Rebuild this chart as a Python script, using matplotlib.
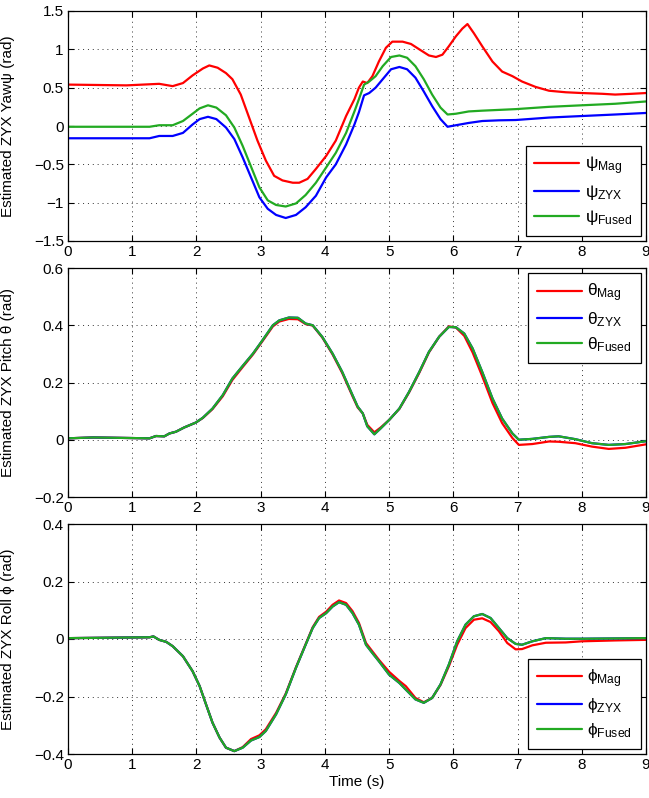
import matplotlib
matplotlib.use("Agg")
import matplotlib.pyplot as plt
from matplotlib.ticker import FuncFormatter

# ---------------- data ----------------
# Yaw
t_yaw_mag = [0, 0.91, 1.42, 1.63, 1.79, 1.94, 2.10, 2.20, 2.33, 2.46, 2.56, 2.69, 2.82, 2.95, 3.08,
             3.21, 3.34, 3.50, 3.60, 3.73, 3.86, 4.02, 4.17, 4.33, 4.46, 4.53, 4.59, 4.66, 4.74,
             4.84, 4.95, 5.05, 5.21, 5.34, 5.47, 5.62, 5.73, 5.83, 5.93, 6.04, 6.14, 6.22, 6.32,
             6.45, 6.61, 6.76, 6.92, 7.07, 7.28, 7.49, 7.75, 8.0, 8.32, 8.52, 8.78, 9.0]
yaw_mag = [0.54, 0.53, 0.55, 0.52, 0.56, 0.66, 0.75, 0.79, 0.76, 0.69, 0.61, 0.41, 0.11, -0.19,
           -0.45, -0.65, -0.71, -0.74, -0.74, -0.69, -0.56, -0.39, -0.19, 0.13, 0.35, 0.50, 0.58,
           0.56, 0.65, 0.84, 1.02, 1.10, 1.10, 1.07, 1.00, 0.92, 0.90, 0.93, 1.04, 1.17, 1.27,
           1.33, 1.21, 1.04, 0.84, 0.71, 0.65, 0.58, 0.51, 0.46, 0.44, 0.43, 0.42, 0.41, 0.42, 0.43]

t_yaw = [0, 1.27, 1.42, 1.63, 1.79, 1.94, 2.05, 2.18, 2.31, 2.46, 2.59, 2.72, 2.85, 2.98, 3.11,
         3.24, 3.39, 3.55, 3.70, 3.86, 4.02, 4.17, 4.33, 4.46, 4.53, 4.61, 4.69, 4.79, 4.90, 5.03,
         5.16, 5.28, 5.41, 5.54, 5.67, 5.80, 5.91, 6.04, 6.24, 6.45, 6.71, 6.97, 7.49, 8.0, 8.52,
         9.0]
yaw_zyx = [-0.16, -0.16, -0.13, -0.13, -0.09, 0.02, 0.09, 0.12, 0.09, -0.02, -0.17, -0.41, -0.67,
           -0.93, -1.08, -1.16, -1.20, -1.16, -1.06, -0.91, -0.67, -0.50, -0.24, 0.02, 0.18, 0.40,
           0.43, 0.50, 0.61, 0.74, 0.77, 0.74, 0.63, 0.45, 0.26, 0.09, -0.01, 0.01, 0.04, 0.065,
           0.074, 0.078, 0.11, 0.13, 0.15, 0.17]
yaw_fused = [-0.01, -0.01, 0.01, 0.01, 0.065, 0.16, 0.23, 0.27, 0.24, 0.14, -0.02, -0.26, -0.53,
             -0.80, -0.97, -1.03, -1.05, -1.01, -0.90, -0.74, -0.54, -0.35, -0.09, 0.19, 0.35,
             0.54, 0.58, 0.65, 0.78, 0.90, 0.92, 0.89, 0.78, 0.61, 0.41, 0.24, 0.15, 0.16, 0.19,
             0.20, 0.21, 0.22, 0.25, 0.27, 0.29, 0.32]

# Pitch
t_pitch = [0, 0.39, 1.27, 1.37, 1.50, 1.58, 1.68, 1.81, 1.99, 2.10, 2.25, 2.41, 2.56, 2.72, 2.88,
           3.03, 3.19, 3.29, 3.44, 3.58, 3.70, 3.81, 3.96, 4.12, 4.27, 4.43, 4.51, 4.59, 4.66,
           4.77, 4.87, 5.0, 5.16, 5.31, 5.47, 5.62, 5.78, 5.93, 6.04, 6.17, 6.30, 6.45, 6.61,
           6.76, 6.92, 7.02, 7.23, 7.49, 7.64, 7.90, 8.16, 8.42, 8.68, 9.0]
pitch_zyx = [0.005, 0.008, 0.005, 0.013, 0.012, 0.022, 0.028, 0.043, 0.06, 0.077, 0.109, 0.156,
             0.214, 0.258, 0.301, 0.348, 0.40, 0.417, 0.427, 0.426, 0.406, 0.40, 0.359, 0.301,
             0.237, 0.156, 0.116, 0.092, 0.047, 0.019, 0.04, 0.069, 0.109, 0.167, 0.237, 0.307,
             0.36, 0.394, 0.393, 0.371, 0.319, 0.237, 0.144, 0.074, 0.022, 0.0, 0.003, 0.01, 0.012,
             0.002, -0.012, -0.018, -0.015, -0.005]
pitch_fused = pitch_zyx
pitch_mag = [0.005, 0.008, 0.005, 0.013, 0.012, 0.022, 0.028, 0.043, 0.06, 0.076, 0.107, 0.152,
             0.209, 0.254, 0.298, 0.345, 0.396, 0.413, 0.422, 0.421, 0.404, 0.399, 0.357, 0.298,
             0.233, 0.152, 0.113, 0.092, 0.052, 0.026, 0.043, 0.069, 0.108, 0.165, 0.234, 0.305,
             0.36, 0.396, 0.392, 0.363, 0.305, 0.222, 0.128, 0.058, 0.006, -0.018, -0.015, -0.006,
             -0.007, -0.012, -0.024, -0.032, -0.028, -0.016]

# Roll
t_roll = [0, 1.27, 1.33, 1.42, 1.53, 1.63, 1.79, 1.94, 2.05, 2.15, 2.25, 2.36, 2.46, 2.59, 2.72,
          2.85, 2.98, 3.08, 3.24, 3.39, 3.55, 3.70, 3.81, 3.91, 4.02, 4.12, 4.22, 4.33, 4.43,
          4.53, 4.64, 4.74, 4.84, 5.0, 5.16, 5.26, 5.41, 5.54, 5.67, 5.80, 5.93, 6.06, 6.19,
          6.32, 6.45, 6.58, 6.71, 6.84, 6.97, 7.07, 7.23, 7.44, 7.75, 8.0, 8.52, 9.0]
roll_zyx = [0.003, 0.006, 0.009, -0.003, -0.01, -0.025, -0.06, -0.112, -0.164, -0.228, -0.291,
            -0.343, -0.378, -0.39, -0.378, -0.353, -0.341, -0.32, -0.262, -0.193, -0.10, -0.02,
            0.038, 0.073, 0.09, 0.113, 0.128, 0.119, 0.09, 0.05, -0.02, -0.049, -0.077, -0.124,
            -0.153, -0.176, -0.21, -0.222, -0.205, -0.158, -0.089, -0.008, 0.05, 0.079, 0.087,
            0.073, 0.038, 0.003, -0.017, -0.02, -0.008, 0.003, 0.001, 0.001, 0.002, 0.003]
roll_fused = roll_zyx
roll_mag = [0.003, 0.006, 0.009, -0.003, -0.01, -0.025, -0.06, -0.112, -0.164, -0.228, -0.291,
            -0.343, -0.378, -0.39, -0.376, -0.348, -0.335, -0.314, -0.257, -0.19, -0.098, -0.018,
            0.041, 0.077, 0.095, 0.119, 0.134, 0.125, 0.097, 0.056, -0.014, -0.043, -0.072,
            -0.114, -0.146, -0.164, -0.205, -0.22, -0.205, -0.16, -0.095, -0.02, 0.038, 0.067,
            0.072, 0.059, 0.027, -0.014, -0.036, -0.035, -0.022, -0.013, -0.012, -0.008, -0.005,
            -0.003]

x_ticks = list(range(0, 10))
yaw_ticks = [-1.5, -1, -0.5, 0, 0.5, 1, 1.5]
pitch_ticks = [-0.2, 0, 0.2, 0.4, 0.6]
roll_ticks = [-0.4, -0.2, 0, 0.2, 0.4]

# ---------------- styling ----------------
plt.rcParams['font.family'] = ['Liberation Sans', 'DejaVu Sans']
plt.rcParams['mathtext.fontset'] = 'custom'
plt.rcParams['mathtext.rm'] = 'Liberation Sans'
plt.rcParams['mathtext.it'] = 'Liberation Sans'

RED = '#ff0000'
BLUE = '#0000ff'
GREEN = '#22aa22'
LW = 1.6

fig = plt.figure(figsize=(6.49, 7.98), dpi=100)
W, H = 649, 798
left, right = 68, 646

def add_axes(top, bottom):
    return fig.add_axes([left / W, 1 - bottom / H, (right - left) / W, (bottom - top) / H])

ax1 = add_axes(11, 241)
ax2 = add_axes(268, 497)
ax3 = add_axes(524, 754)

fmt = FuncFormatter(lambda v, p: f'{v:g}'.replace('-', '\u2212'))

def style(ax, yticks, ylabel):
    ax.set_xlim(0, 9)
    ax.set_ylim(yticks[0], yticks[-1])
    ax.set_xticks(x_ticks)
    ax.set_yticks(yticks)
    ax.yaxis.set_major_formatter(fmt)
    ax.xaxis.set_major_formatter(fmt)
    ax.tick_params(direction='in', length=4, width=0.8, labelsize=11, top=True, right=True,
                   pad=3)
    ax.grid(True, color='#333333', linestyle=(0, (1, 4)), linewidth=0.7)
    for s in ax.spines.values():
        s.set_linewidth(0.9)
    ax.set_ylabel(ylabel, fontsize=11)
    ax.yaxis.set_label_coords((15 - left) / (right - left), 0.5)

kw = dict(lw=LW, solid_joinstyle='round', solid_capstyle='round')

# Yaw
ax1.plot(t_yaw_mag, yaw_mag, color=RED, label=r'$\psi_{\mathrm{Mag}}$', **kw)
ax1.plot(t_yaw, yaw_zyx, color=BLUE, label=r'$\psi_{\mathrm{ZYX}}$', **kw)
ax1.plot(t_yaw, yaw_fused, color=GREEN, label=r'$\psi_{\mathrm{Fused}}$', **kw)
style(ax1, yaw_ticks, 'Estimated ZYX Yaw\u03c8 (rad)')

# Pitch
ax2.plot(t_pitch, pitch_mag, color=RED, label=r'$\theta_{\mathrm{Mag}}$', **kw)
ax2.plot(t_pitch, pitch_zyx, color=BLUE, label=r'$\theta_{\mathrm{ZYX}}$', **kw)
ax2.plot(t_pitch, pitch_fused, color=GREEN, label=r'$\theta_{\mathrm{Fused}}$', **kw)
style(ax2, pitch_ticks, 'Estimated ZYX Pitch \u03b8 (rad)')

# Roll
ax3.plot(t_roll, roll_mag, color=RED, label=r'$\phi_{\mathrm{Mag}}$', **kw)
ax3.plot(t_roll, roll_zyx, color=BLUE, label=r'$\phi_{\mathrm{ZYX}}$', **kw)
ax3.plot(t_roll, roll_fused, color=GREEN, label=r'$\phi_{\mathrm{Fused}}$', **kw)
style(ax3, roll_ticks, 'Estimated ZYX Roll \u03d5 (rad)')
ax3.set_xlabel('Time (s)', fontsize=11, labelpad=2)

for ax, loc in ((ax1, 'lower right'), (ax2, 'upper right'), (ax3, 'lower right')):
    leg = ax.legend(loc=loc, fontsize=12.5, handlelength=2.6, fancybox=False, framealpha=1,
                    edgecolor='black', borderaxespad=0.3, labelspacing=0.35, handletextpad=0.3,
                    borderpad=0.5)
    leg.get_frame().set_linewidth(0.9)

fig.savefig('out.png', dpi=100)
